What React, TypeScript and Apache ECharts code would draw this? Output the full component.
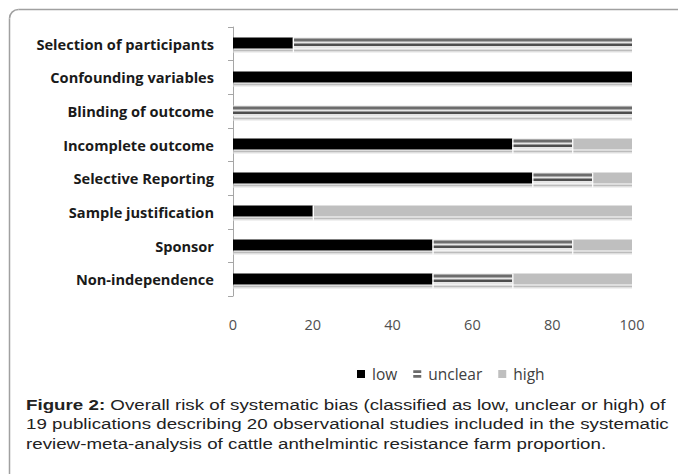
import React, { useEffect, useRef } from "react";
import * as echarts from "echarts";

const categories = [
  "Selection of participants",
  "Confounding variables",
  "Blinding of outcome",
  "Incomplete outcome",
  "Selective Reporting",
  "Sample justification",
  "Sponsor",
  "Non-independence",
];
const lowValues = [15, 100, 0, 70, 75, 20, 50, 50];
const unclearValues = [85, 0, 100, 15, 15, 0, 35, 20];
const highValues = [0, 0, 0, 15, 10, 80, 15, 30];
const xTicks = [0, 20, 40, 60, 80, 100];

const captionLines = [
  "{b|Figure 2:} Overall risk of systematic bias (classified as low, unclear or high) of",
  "19 publications describing 20 observational studies included in the systematic",
  "review-meta-analysis of cattle anthelmintic resistance farm proportion.",
];

type Kind = "low" | "unclear" | "high";

function makeData(kind: Kind) {
  return categories.map((_, i) => {
    const l = lowValues[i];
    const u = unclearValues[i];
    const h = highValues[i];
    if (kind === "low") return [i, 0, l];
    if (kind === "unclear") return [i, l, l + u];
    return [i, l + u, l + u + h];
  });
}

function makeRender(kind: Kind) {
  return (params: any, api: any) => {
    const cat = api.value(0);
    const s = api.value(1);
    const e = api.value(2);
    if (e - s <= 0) return null;
    const p0 = api.coord([s, cat]);
    const p1 = api.coord([e, cat]);
    const band = api.size([0, 1])[1];
    const h = Math.round(band * 0.33);
    const top = Math.round(p0[1] - h / 2) - 0.5;
    const x = p0[0];
    const w = p1[0] - p0[0];
    const children: any[] = [];
    children.push({
      type: "rect",
      shape: { x: x, y: top + h + 1, width: w, height: 2 },
      style: { fill: "#bcbcbc" },
    });
    children.push({
      type: "rect",
      shape: { x: x, y: top + h + 3, width: w, height: 1 },
      style: { fill: "#e2e2e2" },
    });
    if (kind === "low") {
      children.push({
        type: "rect",
        shape: { x, y: top, width: w, height: h },
        style: { fill: "#000000" },
      });
    } else if (kind === "unclear") {
      children.push({
        type: "rect",
        shape: { x, y: top, width: w, height: h },
        style: { fill: "#e6e6e6" },
      });
      children.push({
        type: "rect",
        shape: { x, y: top + 1, width: w, height: 3 },
        style: { fill: "#6c6c6c" },
      });
      children.push({
        type: "rect",
        shape: { x, y: top + 6, width: w, height: 2.5 },
        style: { fill: "#4e4e4e" },
      });
    } else {
      children.push({
        type: "rect",
        shape: { x, y: top, width: w, height: h },
        style: { fill: "#bfbfbf" },
      });
    }
    if (s > 0) {
      children.push({
        type: "rect",
        shape: { x: x, y: top, width: 1.2, height: h + 4 },
        style: { fill: "#ffffff" },
      });
    }
    return { type: "group", children };
  };
}

export default function App() {
  const ref = useRef<HTMLDivElement>(null);
  useEffect(() => {
    if (!ref.current) return;
    const chart = echarts.init(ref.current, undefined, { renderer: "svg" });
    const seriesColors: Record<Kind, string> = {
      low: "#000000",
      unclear: "#6a6a6a",
      high: "#bfbfbf",
    };
    const kinds: Kind[] = ["low", "unclear", "high"];
    chart.setOption({
      animation: false,
      backgroundColor: "#ffffff",
      grid: { left: 233, right: 46, top: 27, bottom: 178, containLabel: false },
      xAxis: {
        type: "value",
        min: 0,
        max: 100,
        interval: 20,
        axisLine: { show: false },
        axisTick: { show: false },
        splitLine: { show: false },
        axisLabel: {
          margin: 21,
          color: "#505050",
          fontFamily: "Open Sans",
          fontSize: 14.5,
          customValues: xTicks,
        },
      },
      yAxis: {
        type: "category",
        data: categories,
        inverse: true,
        axisLine: { show: true, lineStyle: { color: "#a6a6a6", width: 1 } },
        axisTick: { show: true, length: 5, lineStyle: { color: "#a6a6a6" } },
        axisLabel: {
          margin: 19,
          color: "#1a1a1a",
          fontFamily: "Open Sans",
          fontWeight: "bold",
          fontSize: 14.6,
        },
      },
      legend: {
        left: 352,
        top: 361,
        itemWidth: 8,
        itemHeight: 8,
        itemGap: 16,
        textStyle: {
          color: "#404040",
          fontFamily: "Open Sans",
          fontSize: 15.5,
          padding: [0, 0, 0, 2],
        },
        data: [
          { name: "low", icon: "rect" },
          { name: "unclear", icon: "path://M0,0H10V3.5H0Z M0,6H10V9.5H0Z" },
          { name: "high", icon: "rect" },
        ],
      },
      graphic: [
        {
          type: "line",
          shape: { x1: 9.5, y1: 18.5, x2: 9.5, y2: 480 },
          style: { stroke: "#a0a0a0", lineWidth: 1.5 },
          silent: true,
        },
        {
          type: "line",
          shape: { x1: 18.5, y1: 9.5, x2: 690, y2: 9.5 },
          style: { stroke: "#a0a0a0", lineWidth: 1.5 },
          silent: true,
        },
        {
          type: "arc",
          shape: { cx: 18.5, cy: 18.5, r: 9, startAngle: Math.PI, endAngle: 1.5 * Math.PI },
          style: { stroke: "#a0a0a0", lineWidth: 1.5, fill: "none" },
          silent: true,
        },
        {
          type: "text",
          x: 26,
          y: 395,
          scaleX: 1.25,
          style: {
            text: captionLines.join("\n"),
            fontFamily: "Liberation Sans, Arial",
            fontSize: 15,
            lineHeight: 19.5,
            fill: "#222222",
            rich: {
              b: {
                fontFamily: "Liberation Sans, Arial",
                fontSize: 15,
                fontWeight: "bold",
                lineHeight: 19.5,
                fill: "#222222",
              },
            },
          },
        },
      ],
      series: kinds.map((k) => ({
        type: "custom",
        name: k,
        renderItem: makeRender(k),
        encode: { x: [1, 2], y: 0 },
        itemStyle: { color: seriesColors[k] },
        data: makeData(k),
      })),
    });
    return () => chart.dispose();
  }, []);
  return (
    <div
      ref={ref}
      style={{ position: "fixed", left: 0, top: 0, width: 678, height: 474 }}
    />
  );
}
